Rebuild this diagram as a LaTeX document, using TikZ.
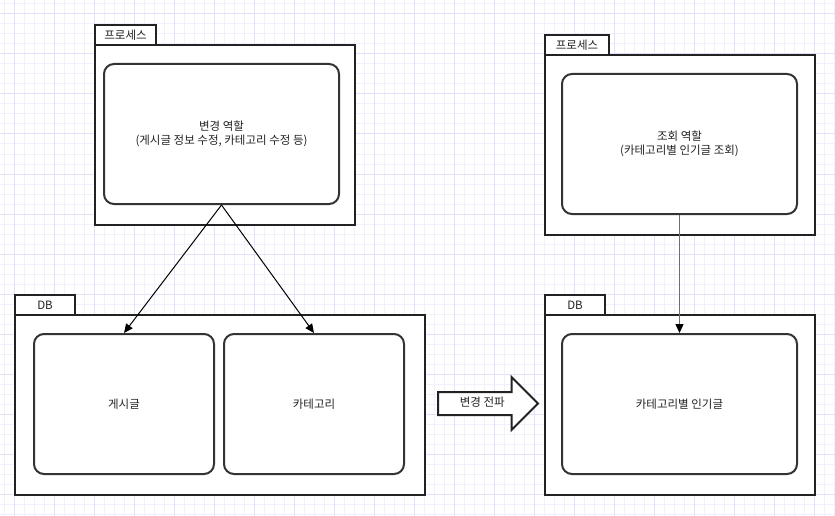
\documentclass[tikz,border=0pt]{standalone}
\usepackage{fontspec}
\newfontfamily\krfont{Noto Sans CJK KR}
\usetikzlibrary{shapes.arrows,arrows.meta}
\definecolor{gridminor}{RGB}{242,240,253}
\definecolor{gridmajor}{RGB}{229,225,251}
\definecolor{boxline}{RGB}{34,34,34}
\definecolor{roleline}{RGB}{51,51,51}
\definecolor{linkgray}{RGB}{110,110,110}

\begin{document}
\begin{tikzpicture}[x=1pt,y=-1pt,
  every node/.style={font=\krfont\fontsize{11.5}{14}\selectfont,text=boxline},
  pkgtab/.style={draw=boxline,line width=2pt,fill=white,anchor=north west,inner sep=0pt,minimum height=20pt},
  pkgbody/.style={draw=boxline,line width=2pt,fill=white,anchor=north west,inner sep=0pt},
  role/.style={draw=roleline,line width=2pt,rounded corners=10pt,fill=white,align=center,inner sep=0pt},
  link/.style={-{Triangle[length=9pt,width=8pt,color=black]},line width=1pt},
  flowarrow/.style={shape=single arrow,draw=boxline,line width=2pt,fill=white,anchor=west,
    single arrow head extend=15pt,single arrow head indent=0pt,minimum height=100pt,
    text height=8pt,text depth=2pt,inner ysep=5.5pt,inner xsep=4pt}]
  \useasboundingbox (0,0) rectangle (835,516);
  %grid
  \fill[white] (0,0) rectangle (835,516);
  \foreach \gx in {4,14,...,834} \draw[gridminor,line width=1pt] (\gx,0) -- (\gx,516);
  \foreach \gy in {4,14,...,514} \draw[gridminor,line width=1pt] (0,\gy) -- (835,\gy);
  \foreach \gx in {14,54,...,834} \draw[gridmajor,line width=1pt] (\gx,0) -- (\gx,516);
  \foreach \gy in {14,54,...,514} \draw[gridmajor,line width=1pt] (0,\gy) -- (835,\gy);

  %left
  %process
  \node[pkgtab,minimum width=61pt] (proctabl) at (94,24) {프로세스};
  \node[pkgbody,minimum width=260pt,minimum height=180pt] (procl) at (94,44) {};
  \node[role,minimum width=235pt,minimum height=140pt] (change) at (221.5,134) {변경 역할\\(게시글 정보 수정, 카테고리 수정 등)};
  %db
  \node[pkgtab,minimum width=60pt] (dbtabl) at (14,294) {DB};
  \node[pkgbody,minimum width=410pt,minimum height=180pt] (dbl) at (14,314) {};
  \node[role,minimum width=180pt,minimum height=140pt] (post) at (124,404) {게시글};
  \node[role,minimum width=180pt,minimum height=140pt] (category) at (314,404) {카테고리};
  \draw[link] (change.south) -- (post.north);
  \draw[link] (change.south) -- (category.north);

  %propagation
  \node[flowarrow] (spread) at (437,403.5) {변경 전파};

  %right
  %process
  \node[pkgtab,minimum width=64pt] (proctabr) at (544,34) {프로세스};
  \node[pkgbody,minimum width=270pt,minimum height=180pt] (procr) at (544,54) {};
  \node[role,minimum width=235pt,minimum height=140pt] (query) at (679.5,144) {조회 역할\\(카테고리별 인기글 조회)};
  %db
  \node[pkgtab,minimum width=60pt] (dbtabr) at (544,294) {DB};
  \node[pkgbody,minimum width=270pt,minimum height=180pt] (dbr) at (544,314) {};
  \node[role,minimum width=235pt,minimum height=140pt] (popular) at (679.5,404) {카테고리별 인기글};
  \draw[link,draw=linkgray,line width=1.3pt] (query.south) -- (popular.north);
\end{tikzpicture}
\end{document}
